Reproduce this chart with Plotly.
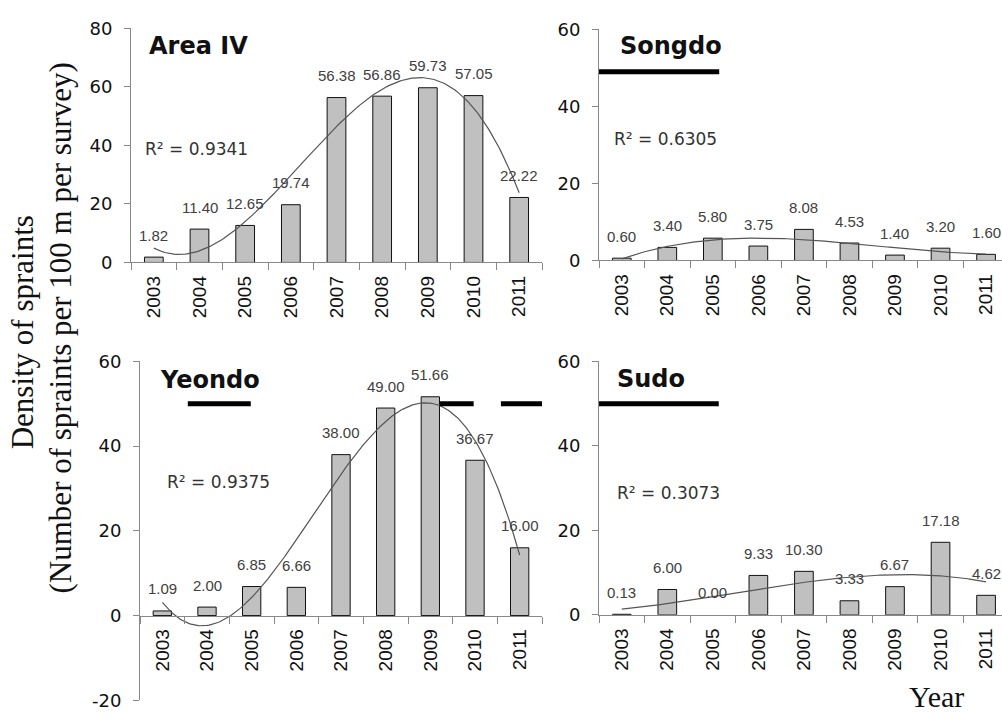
import numpy as np
import plotly.graph_objects as go

# ---- data -------------------------------------------------------------
years = [2003, 2004, 2005, 2006, 2007, 2008, 2009, 2010, 2011]
area_iv = [1.82, 11.40, 12.65, 19.74, 56.38, 56.86, 59.73, 57.05, 22.22]
songdo = [0.60, 3.40, 5.80, 3.75, 8.08, 4.53, 1.40, 3.20, 1.60]
yeondo = [1.09, 2.00, 6.85, 6.66, 38.00, 49.00, 51.66, 36.67, 16.00]
sudo = [0.13, 6.00, 0.00, 9.33, 10.30, 3.33, 6.67, 17.18, 4.62]

panel_names = ["Area IV", "Songdo", "Yeondo", "Sudo"]
r_squared = ["0.9341", "0.6305", "0.9375", "0.3073"]
trend_order = 3  # polynomial trendline order

# horizontal period bars: (start year, end year, level)
songdo_periods = [(2002.5, 2005.14, 49)]
yeondo_periods = [(2003.57, 2004.98, 50), (2009.21, 2009.97, 50), (2010.58, 2011.5, 50)]
sudo_periods = [(2002.5, 2005.13, 50)]

series = [area_iv, songdo, yeondo, sudo]
periods = [[], songdo_periods, yeondo_periods, sudo_periods]

# ---- geometry (pixels on a 1002 x 719 canvas) ---------------------------
W, H = 1002, 719
panel_px = [
    # x0, x1, ytop, ybottom, yrange, xmax
    (131, 542, 18, 259, (0, 80), 2011.5),
    (599, 1002, 19, 257, (0, 60), 2011.35),
    (140, 542, 361, 710, (-20, 60), 2011.5),
    (599, 1002, 361, 622, (0, 60), 2011.35),
]
title_px = [(147, 36), (618, 36), (158, 380), (615, 379)]
rsq_px = [(143, 142), (612, 132), (165, 485), (615, 497)]


def fx(p):
    return p / W


def fy(p):
    return 1 - p / H


fig = go.Figure()
layout = dict(
    width=W, height=H,
    margin=dict(l=0, r=0, t=0, b=0),
    paper_bgcolor="white", plot_bgcolor="white",
    showlegend=False,
    font=dict(family="DejaVu Sans", color="#111"),
)
annotations = []
shapes = []

for i, vals in enumerate(series):
    n = "" if i == 0 else str(i + 1)
    xa, ya = "x" + n, "y" + n
    x0, x1, yt, yb, yr, xmax = panel_px[i]
    y_dom = [fy(yb), fy(yt)]
    zero_pos = y_dom[0] + (0 - yr[0]) / (yr[1] - yr[0]) * (y_dom[1] - y_dom[0])

    fig.add_trace(go.Bar(
        x=years, y=vals, width=0.41, xaxis=xa, yaxis=ya,
        marker=dict(color="#c0c0c0",
                    line=dict(color="#111", width=[1 if v > 0 else 0 for v in vals])),
    ))

    # polynomial trendline fitted to the yearly values
    xs = np.array(years, dtype=float) - 2003
    coef = np.polyfit(xs, vals, trend_order)
    grid = np.linspace(0, 8, 200)
    fig.add_trace(go.Scatter(
        x=grid + 2003, y=np.polyval(coef, grid), mode="lines",
        line=dict(color="#555", width=1.2), xaxis=xa, yaxis=ya,
        hoverinfo="skip",
    ))

    yticks = list(range(yr[0], yr[1] + 1, 20))
    layout["xaxis" + n] = dict(
        domain=[fx(x0), fx(x1)], range=[2002.5, xmax],
        anchor="free" if yr[0] < 0 else ya, position=zero_pos,
        tickmode="array", tickvals=years, ticktext=[str(y) for y in years],
        tickangle=-90, ticks="", ticklabelstandoff=5,
        tickfont=dict(family="Liberation Sans", size=19, color="#111"),
        showline=True, linecolor="#888", linewidth=1, showgrid=False, zeroline=False,
        minor=dict(tickmode="linear", tick0=2002.5, dtick=1, ticks="outside",
                   ticklen=7, tickcolor="#888", tickwidth=1),
    )
    layout["yaxis" + n] = dict(
        domain=y_dom, range=list(yr), anchor=xa,
        tickmode="array", tickvals=yticks, ticktext=[str(t) for t in yticks],
        ticks="outside", ticklen=6, tickcolor="#888", ticklabelstandoff=8,
        tickfont=dict(family="DejaVu Sans", size=18, color="#111"),
        showline=True, linecolor="#888", linewidth=1, showgrid=False, zeroline=False,
    )

    # value labels above each bar
    for yv, v in zip(years, vals):
        annotations.append(dict(
            x=yv, y=v, xref=xa, yref=ya, text=f"{v:.2f}", showarrow=False,
            yshift=22, font=dict(family="Liberation Sans", size=15, color="#404040"),
        ))

    # panel name and fit statistic
    tx, ty = title_px[i]
    annotations.append(dict(
        x=fx(tx), y=fy(ty), xref="paper", yref="paper", xanchor="left", yanchor="middle",
        text=f"<b>{panel_names[i]}</b>", showarrow=False,
        font=dict(family="DejaVu Sans", size=24, color="#111"),
    ))
    rx, ry = rsq_px[i]
    annotations.append(dict(
        x=fx(rx), y=fy(ry), xref="paper", yref="paper", xanchor="left", yanchor="middle",
        text=f"R² = {r_squared[i]}", showarrow=False,
        font=dict(family="DejaVu Sans", size=17, color="#333"),
    ))

    for s, e, lvl in periods[i]:
        shapes.append(dict(
            type="line", xref=xa, yref=ya, x0=s, x1=e, y0=lvl, y1=lvl,
            line=dict(color="black", width=5),
        ))

# shared axis titles
annotations.append(dict(
    x=fx(22), y=fy(331), xref="paper", yref="paper", text="Density of spraints",
    textangle=-90, showarrow=False, xanchor="center", yanchor="middle",
    font=dict(family="Liberation Serif", size=31, color="#111"),
))
annotations.append(dict(
    x=fx(60), y=fy(327), xref="paper", yref="paper",
    text="(Number of spraints per 100 m per survey)",
    textangle=-90, showarrow=False, xanchor="center", yanchor="middle",
    font=dict(family="Liberation Serif", size=31, color="#111"),
))
annotations.append(dict(
    x=fx(936), y=fy(706), xref="paper", yref="paper", text="Year",
    showarrow=False, xanchor="center", yanchor="middle",
    font=dict(family="Liberation Serif", size=30, color="#111"),
))

layout["annotations"] = annotations
layout["shapes"] = shapes
fig.update_layout(**layout)
fig.write_html("out.html")
